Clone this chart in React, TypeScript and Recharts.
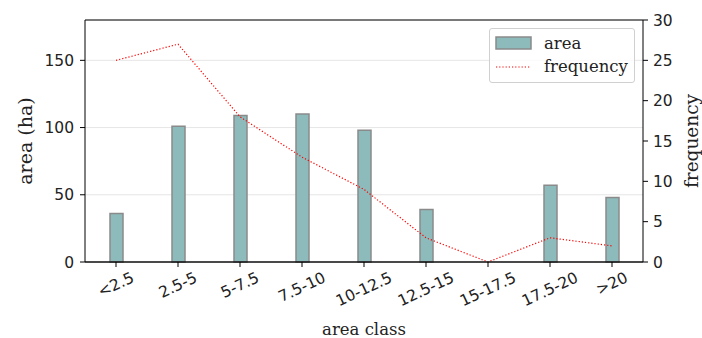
import { ComposedChart, Bar, Line, XAxis, YAxis, CartesianGrid, Label, ReferenceLine } from "recharts"

const classes = ["<2.5", "2.5-5", "5-7.5", "7.5-10", "10-12.5", "12.5-15", "15-17.5", "17.5-20", ">20"]
const areaHa = [36, 101, 109, 110, 98, 39, 0, 57, 48]
const frequency = [25, 27, 18, 13, 9, 3, 0, 3, 2]
const areaTicks = [0, 50, 100, 150]
const freqTicks = [0, 5, 10, 15, 20, 25, 30]

const data = classes.map((name, i) => ({ name, area: areaHa[i], frequency: frequency[i] }))

const SANS = "'DejaVu Sans', sans-serif"
const SERIF = "'DejaVu Serif', serif"
const TICK_SIZE = 15.5
const BAR_FILL = "#8dbaba"

// rough DejaVu Sans advance widths, used to place the rotated labels like matplotlib does
const charWidth = (c: string) => {
  if (c === "<" || c === ">") return 0.838
  if (c === ".") return 0.318
  if (c === "-") return 0.361
  return 0.636
}

function RotatedTick(props: any) {
  const { x, y, payload } = props
  const label = String(payload.value)
  const w = label.split("").reduce((s, c) => s + charWidth(c), 0) * TICK_SIZE
  const rad = (25 * Math.PI) / 180
  const h = w * Math.sin(rad) + TICK_SIZE * 1.1 * Math.cos(rad)
  return (
    <g transform={`translate(${x},${y + h / 2})`}>
      <text
        transform="rotate(-25)"
        textAnchor="middle"
        dominantBaseline="central"
        fontFamily={SANS}
        fontSize={TICK_SIZE}
        fill="#222"
      >
        {label}
      </text>
    </g>
  )
}

function LegendBox() {
  return (
    <div
      style={{
        position: "absolute",
        left: 489,
        top: 28,
        width: 144,
        height: 53,
        border: "1px solid #d0d0d0",
        borderRadius: 3,
        background: "rgba(255,255,255,0.8)",
        fontFamily: SERIF,
        fontSize: 16.5,
        color: "#222",
      }}
    >
      <div style={{ display: "flex", alignItems: "center", height: 22, marginTop: 3 }}>
        <svg width={54} height={22}>
          <rect x={6} y={5} width={35} height={12} fill={BAR_FILL} stroke="#8a8a8a" strokeWidth={1.5} />
        </svg>
        <span>area</span>
      </div>
      <div style={{ display: "flex", alignItems: "center", height: 25 }}>
        <svg width={54} height={22}>
          <line x1={6} x2={41} y1={11} y2={11} stroke="red" strokeWidth={1.2} strokeDasharray="1.2 2" />
        </svg>
        <span>frequency</span>
      </div>
    </div>
  )
}

export default function App() {
  return (
    <div style={{ position: "absolute", left: 0, top: 0, width: 702, height: 338 }}>
      <ComposedChart width={702} height={338} data={data} margin={{ top: 20, right: 0, bottom: 0, left: 0 }}>
        <CartesianGrid yAxisId="left" vertical={false} stroke="#e6e6e6" />
        <XAxis
          dataKey="name"
          interval={0}
          height={76}
          tickSize={5}
          tickMargin={2}
          tick={<RotatedTick />}
          tickLine={{ stroke: "#000" }}
          axisLine={{ stroke: "#111", strokeWidth: 1.3 }}
        >
          <Label
            content={({ viewBox }: any) => (
              <text x={viewBox.x + viewBox.width / 2} y={viewBox.y + 73} textAnchor="middle" fontFamily={SERIF} fontSize={16.5} fill="#222">
                area class
              </text>
            )}
          />
        </XAxis>
        <YAxis
          yAxisId="left"
          width={85}
          domain={[0, 180]}
          ticks={areaTicks}
          tickSize={5}
          tickMargin={6}
          tick={{ fontFamily: SANS, fontSize: TICK_SIZE, fill: "#222" }}
          tickLine={{ stroke: "#000" }}
          axisLine={{ stroke: "#000" }}
        >
          <Label
            content={({ viewBox }: any) => {
              const cx = viewBox.x + 25
              const cy = viewBox.y + viewBox.height / 2
              return (
                <text x={cx} y={cy} transform={`rotate(-90 ${cx} ${cy})`} textAnchor="middle" dominantBaseline="central" fontFamily={SERIF} fontSize={19} fill="#222">
                  area (ha)
                </text>
              )
            }}
          />
        </YAxis>
        <YAxis
          yAxisId="right"
          orientation="right"
          width={59}
          domain={[0, 30]}
          ticks={freqTicks}
          tickSize={5}
          tickMargin={5}
          tick={{ fontFamily: SANS, fontSize: TICK_SIZE, fill: "#222" }}
          tickLine={{ stroke: "#000" }}
          axisLine={{ stroke: "#000" }}
        >
          <Label
            content={({ viewBox }: any) => {
              const cx = viewBox.x + 48
              const cy = viewBox.y + viewBox.height / 2
              return (
                <text x={cx} y={cy} transform={`rotate(-90 ${cx} ${cy})`} textAnchor="middle" dominantBaseline="central" fontFamily={SERIF} fontSize={18.5} fill="#222">
                  frequency
                </text>
              )
            }}
          />
        </YAxis>
        <ReferenceLine yAxisId="left" y={180} stroke="#000" />
        <Bar
          yAxisId="left"
          dataKey="area"
          barSize={13}
          fill={BAR_FILL}
          stroke="#8a8a8a"
          strokeWidth={1.5}
          isAnimationActive={false}
        />
        <Line
          yAxisId="right"
          dataKey="frequency"
          type="linear"
          stroke="red"
          strokeWidth={1.2}
          strokeDasharray="1.2 2"
          dot={false}
          activeDot={false}
          isAnimationActive={false}
        />
      </ComposedChart>
      <LegendBox />
    </div>
  )
}
